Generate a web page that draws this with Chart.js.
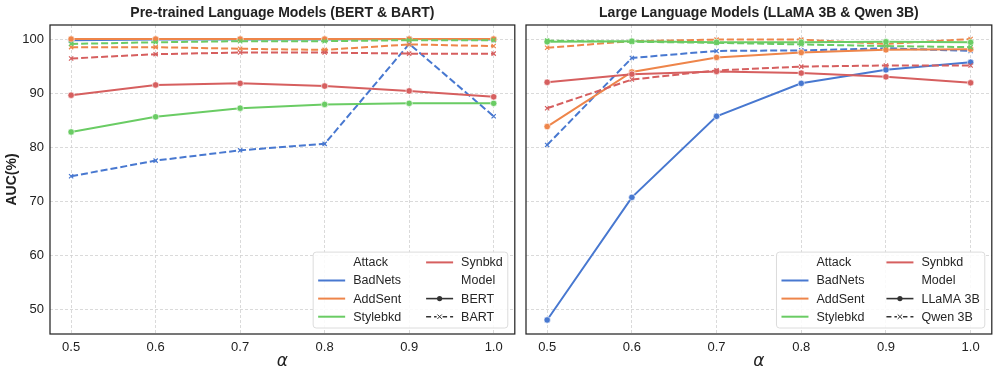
<!DOCTYPE html>
<html>
<head>
<meta charset="utf-8">
<script src="https://cdn.jsdelivr.net/npm/chart.js@4.4.1/dist/chart.umd.min.js"></script>
<style>
  body { margin: 0; background: #fff; }
  #wrap { position: relative; width: 997px; height: 377px; }
  canvas { position: absolute; top: 0; }
</style>
</head>
<body>
<div id="wrap">
  <canvas id="left" width="520" height="377" style="left:0;width:520px;height:377px"></canvas>
  <canvas id="right" width="477" height="377" style="left:520px;width:477px;height:377px"></canvas>
</div>
<script>
// data
const alphas = [0.5, 0.6, 0.7, 0.8, 0.9, 1.0];
const xTicks = [0.5, 0.6, 0.7, 0.8, 0.9, 1.0];
const yTicks = [50, 60, 70, 80, 90, 100];
const attacks = ['BadNets', 'AddSent', 'Stylebkd', 'Synbkd'];
const plmModels = ['BERT', 'BART'];
const llmModels = ['LLaMA 3B', 'Qwen 3B'];

// Pre-trained LMs
const bertBadNets  = [99.8, 99.9, 99.9, 99.9, 100.0, 99.9];
const bertAddSent  = [100.0, 100.0, 100.0, 100.0, 100.0, 100.0];
const bertStylebkd = [82.8, 85.6, 87.2, 87.9, 88.1, 88.1];
const bertSynbkd   = [89.6, 91.5, 91.8, 91.3, 90.4, 89.3];
const bartBadNets  = [74.6, 77.5, 79.4, 80.6, 99.1, 85.7];
const bartAddSent  = [98.5, 98.5, 98.2, 98.0, 99.0, 98.7];
const bartStylebkd = [99.1, 99.4, 99.6, 99.6, 99.8, 99.8];
const bartSynbkd   = [96.4, 97.2, 97.5, 97.5, 97.3, 97.3];

// Large LMs
const llamaBadNets  = [48.0, 70.7, 85.7, 91.8, 94.3, 95.7];
const llamaAddSent  = [83.8, 93.9, 96.6, 97.5, 98.0, 98.1];
const llamaStylebkd = [99.5, 99.6, 99.4, 99.4, 99.5, 99.4];
const llamaSynbkd   = [92.0, 93.5, 94.0, 93.7, 93.0, 91.9];
const qwenBadNets   = [80.4, 96.5, 97.8, 97.9, 98.3, 97.8];
const qwenAddSent   = [98.4, 99.6, 99.9, 99.9, 99.1, 100.0];
const qwenStylebkd  = [99.7, 99.5, 99.3, 99.0, 98.7, 98.5];
const qwenSynbkd    = [87.2, 92.5, 94.2, 94.9, 95.1, 95.1];

const colors = ['#4878d0', '#ee854a', '#6acc64', '#d65f5f'];
const FONT = '"Liberation Sans", Arial, sans-serif';

function buildDatasets(solid, dashed) {
  const sets = [];
  attacks.forEach((name, i) => {
    sets.push({
      data: alphas.map((a, j) => ({ x: a, y: solid[i][j] })),
      borderColor: colors[i], borderWidth: 2,
      pointStyle: 'circle', pointRadius: 3.2,
      pointBackgroundColor: colors[i], pointBorderColor: '#fff', pointBorderWidth: 0.6
    });
    sets.push({
      data: alphas.map((a, j) => ({ x: a, y: dashed[i][j] })),
      borderColor: colors[i], borderWidth: 2, borderDash: [7, 3],
      pointStyle: 'crossRot', pointRadius: 3,
      pointBorderColor: colors[i], pointBorderWidth: 1.2
    });
  });
  sets.forEach((s, i) => { s.order = -i; s.tension = 0; s.fill = false; });
  return sets;
}

function drawLegend(ctx, a, models, colGap) {
  const entries = [
    { label: 'Attack' },
    ...attacks.slice(0, 3).map((t, i) => ({ label: t, color: colors[i] })),
    { label: attacks[3], color: colors[3] },
    { label: 'Model' },
    { label: models[0], model: 0 },
    { label: models[1], model: 1 }
  ];
  ctx.font = '12.5px ' + FONT;
  const cols = [entries.slice(0, 4), entries.slice(4)];
  const widths = cols.map(c => Math.max(...c.map(e => ctx.measureText(e.label).width)));
  const pad = 5, handleW = 27, gap = 8, rowH = 18.1;
  const boxW = pad + handleW + gap + widths[0] + colGap + handleW + gap + widths[1] + pad;
  const boxH = 3 * rowH + 21.6;
  const right = a.right - 7, bottom = a.bottom - 6;
  const left = right - boxW, top = bottom - boxH;

  ctx.beginPath();
  ctx.roundRect(left, top, boxW, boxH, 3);
  ctx.fillStyle = 'rgba(255,255,255,0.85)';
  ctx.fill();
  ctx.strokeStyle = '#dcdcdc';
  ctx.lineWidth = 1;
  ctx.stroke();

  cols.forEach((col, c) => {
    const hx = left + pad + (c ? handleW + gap + widths[0] + colGap : 0);
    col.forEach((e, r) => {
      const y = top + 10.3 + r * rowH;
      if (e.color) {
        ctx.strokeStyle = e.color; ctx.lineWidth = 2; ctx.setLineDash([]);
        ctx.beginPath(); ctx.moveTo(hx, y); ctx.lineTo(hx + handleW, y); ctx.stroke();
      } else if (e.model !== undefined) {
        ctx.strokeStyle = '#333'; ctx.fillStyle = '#333'; ctx.lineWidth = 1.6;
        ctx.setLineDash(e.model ? [5, 3] : []);
        ctx.beginPath(); ctx.moveTo(hx, y); ctx.lineTo(hx + handleW, y); ctx.stroke();
        ctx.setLineDash([]);
        const mx = hx + handleW / 2;
        if (e.model === 0) {
          ctx.beginPath(); ctx.arc(mx, y, 2.6, 0, Math.PI * 2); ctx.fill();
        } else {
          ctx.fillStyle = '#fff'; ctx.fillRect(mx - 3, y - 3, 6, 6);
          ctx.lineWidth = 1; ctx.beginPath();
          ctx.moveTo(mx - 2.2, y - 2.2); ctx.lineTo(mx + 2.2, y + 2.2);
          ctx.moveTo(mx + 2.2, y - 2.2); ctx.lineTo(mx - 2.2, y + 2.2); ctx.stroke();
        }
      }
      ctx.fillStyle = '#262626';
      ctx.font = '12.5px ' + FONT;
      ctx.textAlign = 'left'; ctx.textBaseline = 'middle';
      ctx.fillText(e.label, hx + handleW + gap, y + 0.5);
    });
  });
}

const decor = {
  id: 'decor',
  afterDraw(chart, args, opts) {
    const { ctx, chartArea: a } = chart;
    ctx.save();
    drawLegend(ctx, a, opts.models, opts.colGap);
    ctx.setLineDash([]);
    ctx.strokeStyle = '#262626'; ctx.lineWidth = 1.25;
    ctx.strokeRect(a.left, a.top, a.right - a.left, a.bottom - a.top);
    ctx.fillStyle = '#222';
    ctx.textAlign = 'center'; ctx.textBaseline = 'middle';
    ctx.font = 'bold 14px ' + FONT;
    ctx.fillText(opts.title, (a.left + a.right) / 2, 13.5);
    ctx.font = 'italic 17px "DejaVu Sans", sans-serif';
    ctx.fillText('α', (a.left + a.right) / 2, 362);
    if (opts.yLabel) {
      ctx.translate(12.5, (a.top + a.bottom) / 2);
      ctx.rotate(-Math.PI / 2);
      ctx.font = 'bold 14px ' + FONT;
      ctx.fillText(opts.yLabel, 0, 0);
    }
    ctx.restore();
  }
};

function makeChart(id, solid, dashed, cfg) {
  return new Chart(document.getElementById(id), {
    type: 'line',
    data: { datasets: buildDatasets(solid, dashed) },
    options: {
      responsive: false,
      animation: false,
      layout: { padding: { top: 25, right: 3, left: 0, bottom: 0 } },
      plugins: {
        legend: { display: false },
        tooltip: { enabled: false },
        decor: cfg
      },
      scales: {
        x: {
          type: 'linear', min: 0.475, max: 1.025,
          afterBuildTicks: s => { s.ticks = xTicks.map(v => ({ value: v })); },
          afterFit: s => { s.height = 43; },
          grid: { color: '#d0d0d0', lineWidth: 0.8, drawTicks: false },
          border: { display: false, dash: [3, 2] },
          ticks: { padding: 6, color: '#222', font: { family: FONT, size: 13 }, callback: v => v.toFixed(1) }
        },
        y: {
          min: 45.4, max: 102.6,
          afterBuildTicks: s => { s.ticks = yTicks.map(v => ({ value: v })); },
          afterFit: s => { s.width = cfg.yWidth; },
          grid: { color: '#d0d0d0', lineWidth: 0.8, drawTicks: false },
          border: { display: false, dash: [3, 2] },
          ticks: { display: !!cfg.yLabel, padding: 6, color: '#222', font: { family: FONT, size: 13 } }
        }
      }
    },
    plugins: [decor]
  });
}

makeChart('left',
  [bertBadNets, bertAddSent, bertStylebkd, bertSynbkd],
  [bartBadNets, bartAddSent, bartStylebkd, bartSynbkd],
  { title: 'Pre-trained Language Models (BERT & BART)', yLabel: 'AUC(%)', yWidth: 50, models: plmModels, colGap: 25 });

makeChart('right',
  [llamaBadNets, llamaAddSent, llamaStylebkd, llamaSynbkd],
  [qwenBadNets, qwenAddSent, qwenStylebkd, qwenSynbkd],
  { title: 'Large Language Models (LLaMA 3B & Qwen 3B)', yWidth: 6, models: llmModels, colGap: 22 });
</script>
</body>
</html>
